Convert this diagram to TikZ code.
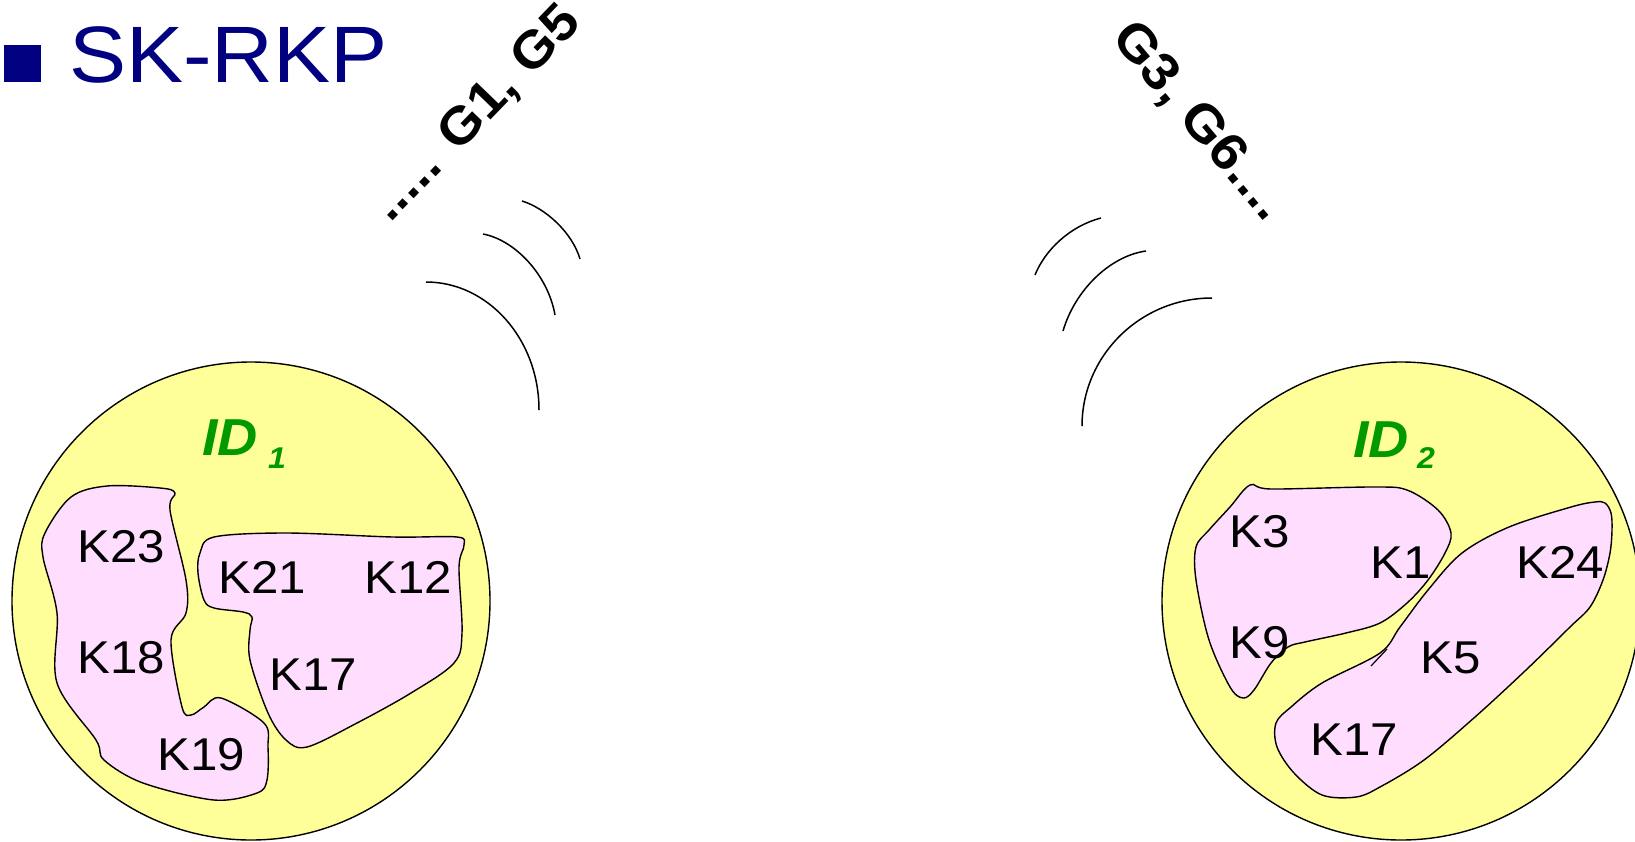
\documentclass[tikz,border=0pt]{standalone}
\usepackage{fontspec}
\setmainfont{Liberation Sans}
\newfontfamily\af[FakeStretch=1.07]{Liberation Sans}
\definecolor{navy}{RGB}{0,0,128}
\definecolor{idgreen}{RGB}{0,153,0}
\definecolor{yellowfill}{RGB}{255,255,153}
\definecolor{pinkfill}{RGB}{255,221,255}
\tikzset{
  klab/.style={font=\af\fontsize{46}{50}\selectfont, anchor=base, inner sep=0pt},
  idlab/.style={font=\af\bfseries\itshape\fontsize{52}{56}\selectfont, text=idgreen, anchor=base west, inner sep=0pt},
  idsub/.style={font=\af\bfseries\itshape\fontsize{30}{34}\selectfont, text=idgreen, anchor=base west, inner sep=0pt},
  glab/.style={font=\af\bfseries\fontsize{52}{56}\selectfont, anchor=base west, inner sep=0pt},
  wave/.style={line width=1.5pt},
  disc/.style={draw=black, fill=yellowfill, line width=1.4pt},
  blob/.style={draw=black, fill=pinkfill, line width=1.4pt},
}
\begin{document}
\begin{tikzpicture}[x=1pt,y=-1pt]
\useasboundingbox (0,0) rectangle (1635,841);
\clip (0,0) rectangle (1635,841);
% title
\fill[navy] (4,45) rectangle (41,82);
\node[anchor=base west, inner sep=0pt, text=navy, font=\af\fontsize{80}{84}\selectfont] (title) at (69,82) {SK-RKP};

% discs
\draw[disc] (251,601) circle [radius=239pt];
\draw[disc] (1401,601) circle [radius=239pt];

% left blobs
\draw[blob] plot[smooth cycle, tension=0.55] coordinates {
 (175,493) (170,510) (186,580) (186,613) (171,640) (182,707) (191,715) (204,707) (221,698)
 (264,723) (268,747) (267,780) (257,793) (214,800) (143,783) (104,760) (96,740) (57,683)
 (57,613) (43,557) (45,533) (71,497) (107,486) (160,488)};
\draw[blob] plot[smooth cycle, tension=0.55] coordinates {
 (200,553) (214,537) (286,533) (393,537) (457,537) (464,545) (459,567) (462,633) (454,663)
 (411,693) (357,723) (307,747) (286,740) (268,713) (250,660) (250,630) (252,617) (243,612)
 (214,608) (204,600) (198,573)};

% right blobs
\draw[blob] plot[smooth cycle, tension=0.55] coordinates {
 (1250,485) (1271,489) (1373,487) (1407,490) (1438,510) (1451,533) (1445,553) (1428,580)
 (1407,603) (1380,623) (1346,633) (1305,642) (1288,647) (1271,663) (1254,690) (1243,698)
 (1230,687) (1209,640) (1196,580) (1196,547) (1209,530) (1230,507)};
\draw[blob] plot[smooth cycle, tension=0.55] coordinates {
 (1605,503) (1611,513) (1612,530) (1610,553) (1603,580) (1590,607) (1570,627) (1526,670)
 (1475,717) (1424,760) (1380,787) (1356,797) (1322,795) (1294,773) (1277,747) (1276,723)
 (1291,707) (1322,683) (1380,653) (1400,627) (1428,590) (1462,553) (1509,527) (1571,507)
 (1595,502)};
\coordinate (tickA) at (1371,666);
\coordinate (tickB) at (1387,649);
\draw[line width=1.2pt] (tickA) -- (tickB);

% labels left
\node[idlab] (id1) at (202,455) {ID};
\node[idsub] (id1s) at (268,468) {1};
\node[klab] (k23) at (121,562) {K23};
\node[klab] (k18) at (121,673) {K18};
\node[klab] (k19) at (201,770) {K19};
\node[klab] (k21) at (262,593) {K21};
\node[klab] (k12) at (408,593) {K12};
\node[klab] (k17a) at (313,690) {K17};

% labels right
\node[idlab] (id2) at (1353,457) {ID};
\node[idsub] (id2s) at (1417,468) {2};
\node[klab] (k3) at (1260,547) {K3};
\node[klab] (k1) at (1401,578) {K1};
\node[klab] (k24) at (1560,578) {K24};
\node[klab] (k9) at (1260,658) {K9};
\node[klab] (k5) at (1451,673) {K5};
\node[klab] (k17b) at (1354,755) {K17};

% waves left
\coordinate (la1) at (522,201); \coordinate (lb1) at (580,259);
\coordinate (la2) at (483,234); \coordinate (lb2) at (555,315);
\coordinate (la3) at (426,282); \coordinate (lb3) at (539,410);
\draw[wave] (la1) .. controls (545,208) and (572,232) .. (lb1);
\draw[wave] (la2) .. controls (515,240) and (548,275) .. (lb2);
\draw[wave] (la3) .. controls (488,282) and (539,339) .. (lb3);

% waves right
\coordinate (ra1) at (1101,218); \coordinate (rb1) at (1035,275);
\coordinate (ra2) at (1146,251); \coordinate (rb2) at (1063,331);
\coordinate (ra3) at (1212,298); \coordinate (rb3) at (1082,426);
\draw[wave] (ra1) .. controls (1070,226) and (1045,250) .. (rb1);
\draw[wave] (ra2) .. controls (1110,256) and (1075,290) .. (rb2);
\draw[wave] (ra3) .. controls (1140,298) and (1082,356) .. (rb3);

% rotated texts
\node[glab, rotate=46] (gl) at (390,224) {..... G1, G5};
\node[glab, rotate=-50] (gr) at (1110,38) {G3, G6....};
\end{tikzpicture}
\end{document}
